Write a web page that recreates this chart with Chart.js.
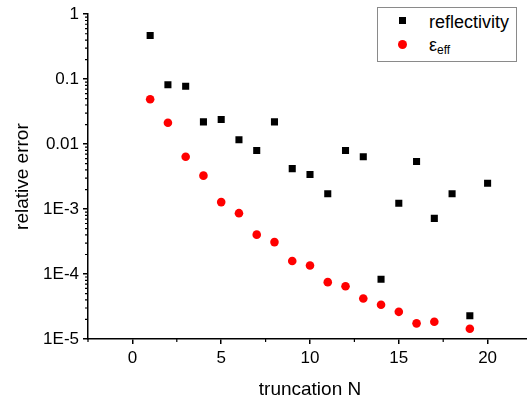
<!DOCTYPE html>
<html>
<head>
<meta charset="utf-8">
<script src="https://cdn.jsdelivr.net/npm/chart.js@4"></script>
<style>
    html, body { margin: 0; padding: 0; overflow: hidden; background: #fff; width: 527px; height: 402px; }
    #wrap { position: relative; width: 532px; height: 402px; }
    #chart { position: absolute; left: 0; top: 0; }
    .legend {
        position: absolute; left: 377px; top: 7px; width: 140px; height: 55px;
        box-sizing: border-box; border: 1px solid #8a8a8a; background: #fff;
        font-family: 'Liberation Sans', Arial, sans-serif; color: #000;
    }
    .legend .sq { position: absolute; left: 21px; width: 7px; height: 7px; background: #000; }
    .legend .dot { position: absolute; left: 20px; width: 9px; height: 9px; border-radius: 50%; background: #f00; }
    .legend .txt { position: absolute; left: 51px; font-size: 18px; line-height: 18px; white-space: nowrap; }
    .legend sub { font-size: 12px; position: relative; top: 3px; vertical-align: baseline; }
</style>
</head>
<body>
<div id="wrap">
    <canvas id="chart" width="532" height="402" style="width:532px;height:402px"></canvas>
    <div class="legend">
        <div class="sq" style="top:9px"></div>
        <div class="txt" style="top:5px">reflectivity</div>
        <div class="dot" style="top:32px"></div>
        <div class="txt" style="top:28px">ε<sub>eff</sub></div>
    </div>
</div>
<script>
// truncation order N for each series
const nReflect = [1, 2, 3, 4, 5, 6, 7, 8, 9, 10, 11, 12, 13, 14, 15, 16, 17, 18, 19, 20];
const errReflect = [0.47, 0.082, 0.078, 0.022, 0.024, 0.0117, 0.0080, 0.022, 0.0042, 0.0034,
    0.00172, 0.0080, 0.0064, 8.3e-5, 0.00123, 0.0054, 7.2e-4, 0.00172, 2.28e-5, 0.0025];

const nEps = [1, 2, 3, 4, 5, 6, 7, 8, 9, 10, 11, 12, 13, 14, 15, 16, 17, 19];
const errEps = [0.049, 0.0213, 0.0064, 0.00327, 0.00128, 8.65e-4, 4.04e-4, 3.1e-4, 1.59e-4, 1.35e-4,
    7.5e-5, 6.5e-5, 4.2e-5, 3.36e-5, 2.62e-5, 1.74e-5, 1.84e-5, 1.44e-5];

const xTicks = [0, 5, 10, 15, 20];
const xMinorTicks = [-2.5, 2.5, 7.5, 12.5, 17.5, 22.5];
const yTicks = [1e-5, 1e-4, 1e-3, 0.01, 0.1, 1];
const yTickLabels = ['1E-5', '1E-4', '1E-3', '0.01', '0.1', '1'];

const FONT = "'Liberation Sans', Arial, sans-serif";

const toPoints = (xs, ys) => xs.map((x, i) => ({ x: x, y: ys[i] }));

// short minor tick marks, drawn against the axes
const minorTicks = {
    id: 'minorTicks',
    afterDraw(chart) {
        const ctx = chart.ctx;
        const xs = chart.scales.x;
        const ys = chart.scales.y;
        ctx.save();
        ctx.strokeStyle = '#000';
        ctx.lineWidth = 1.2;
        ctx.beginPath();
        xMinorTicks.forEach(v => {
            const px = xs.getPixelForValue(v);
            ctx.moveTo(px, xs.top);
            ctx.lineTo(px, xs.top + 3);
        });
        for (let d = -5; d < 0; d++) {
            for (let m = 2; m <= 9; m++) {
                const py = ys.getPixelForValue(m * Math.pow(10, d));
                ctx.moveTo(ys.right, py);
                ctx.lineTo(ys.right - 3, py);
            }
        }
        ctx.stroke();
        ctx.restore();
    }
};

new Chart(document.getElementById('chart'), {
    type: 'scatter',
    data: {
        datasets: [
            {
                label: 'reflectivity',
                data: toPoints(nReflect, errReflect),
                pointStyle: 'rect',
                pointRadius: 5,
                pointHoverRadius: 5,
                backgroundColor: '#000',
                borderWidth: 0
            },
            {
                label: 'ε_eff',
                data: toPoints(nEps, errEps),
                pointStyle: 'circle',
                pointRadius: 4.3,
                pointHoverRadius: 4.3,
                backgroundColor: '#f00',
                borderWidth: 0
            }
        ]
    },
    options: {
        responsive: false,
        animation: false,
        events: [],
        layout: { autoPadding: false, padding: { top: 13, right: 0, bottom: 0, left: 0 } },
        plugins: {
            legend: { display: false },
            tooltip: { enabled: false }
        },
        scales: {
            x: {
                type: 'linear',
                min: -2.5,
                max: 22.5,
                afterBuildTicks: s => { s.ticks = xTicks.map(v => ({ value: v })); },
                afterFit: s => { s.height = 63; s.paddingLeft = 0; s.paddingRight = 0; },
                grid: { drawOnChartArea: false, tickLength: 5, color: '#000', lineWidth: 1.5 },
                border: { color: '#000', width: 1.5 },
                ticks: { color: '#000', padding: 4, maxRotation: 0, font: { family: FONT, size: 17 } },
                title: {
                    display: true,
                    text: 'truncation N',
                    color: '#000',
                    padding: { top: 0, bottom: 1 },
                    font: { family: FONT, size: 19 }
                }
            },
            y: {
                type: 'logarithmic',
                min: 1e-5,
                max: 1,
                afterBuildTicks: s => { s.ticks = yTicks.map(v => ({ value: v })); },
                afterFit: s => { s.width = 88; },
                grid: { drawOnChartArea: false, tickLength: 5, color: '#000', lineWidth: 1.5 },
                border: { color: '#000', width: 1.5 },
                ticks: {
                    color: '#000',
                    padding: 4,
                    font: { family: FONT, size: 17 },
                    callback: v => {
                        const i = yTicks.findIndex(t => Math.abs(Math.log10(t) - Math.log10(v)) < 1e-6);
                        return i >= 0 ? yTickLabels[i] : '';
                    }
                },
                title: {
                    display: true,
                    text: 'relative error',
                    color: '#000',
                    padding: { top: 11, bottom: 0 },
                    font: { family: FONT, size: 19 }
                }
            }
        }
    },
    plugins: [minorTicks]
});
</script>
</body>
</html>
